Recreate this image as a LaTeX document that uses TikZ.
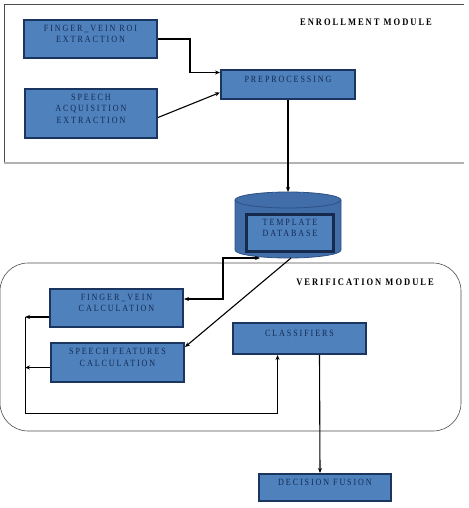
\documentclass[tikz,border=0pt]{standalone}
\usepackage{fontspec}
\newfontfamily\boxfont[LetterSpace=20,FakeStretch=0.85]{Liberation Serif}
\usetikzlibrary{arrows.meta}
\definecolor{boxblue}{HTML}{4F81BD}
\definecolor{boxedge}{HTML}{1A3560}
\definecolor{boxtext}{HTML}{142B52}
\definecolor{dbblue}{HTML}{416DA8}
\definecolor{dbedge}{HTML}{2D5286}
\begin{document}
\begin{tikzpicture}[x=1pt,y=-1pt,
    blk/.style={draw=boxedge, line width=2.4pt, fill=boxblue, text=boxtext,
      font=\boxfont\fontsize{9.5}{11.5}\selectfont, align=center,
      inner sep=0pt, text depth=10pt},
    arr/.style={-{Stealth[length=5pt,width=4pt]}, line width=1.1pt},
    arrtwo/.style={{Stealth[length=5pt,width=4pt]}-{Stealth[length=5pt,width=4pt]}, line width=1.1pt},
    modlbl/.style={font=\boxfont\bfseries\fontsize{10}{12}\selectfont}]
    \useasboundingbox (0,0) rectangle (468,508);

    % enrollment module
    \draw[gray!60!black, line width=0.6pt] (464,4) -- (4,4) -- (4,163);
    \draw[gray!60, line width=1.2pt] (4,163) -- (464,163);
    \node[modlbl] (enrlbl) at (366,22) {ENROLLMENT MODULE};

    \node[blk, minimum width=132.6, minimum height=37.6] (fvroi) at (90.5,39) {FINGER\_VEIN ROI\\EXTRACTION};
    \node[blk, minimum width=131.6, minimum height=48.6] (spacq) at (91,113.5) {SPEECH\\ACQUISITION\\EXTRACTION};
    \node[blk, minimum width=133.6, minimum height=28.6] (preproc) at (288,84.5) {PREPROCESSING};

    % template database
    \filldraw[fill=dbblue, draw=dbedge, line width=0.8pt] (235,200) -- (235,250)
      arc[start angle=180, end angle=0, x radius=53, y radius=8] -- (341,200) -- cycle;
    \filldraw[fill=dbblue, draw=dbedge, line width=0.8pt] (288,200) ellipse[x radius=53, y radius=8];
    \coordinate (dbtop) at (288,192);
    \coordinate (dbbot) at (288,258);
    \node[blk, draw=boxedge!80!black, line width=3pt, minimum width=87, minimum height=37] (dbtext) at (290,233) {TEMPLATE\\DATABASE};

    % verification module
    \draw[gray!60!black, line width=0.6pt, rounded corners=28pt] (0,263) rectangle (461,431);
    \node[modlbl] (verlbl) at (365,282) {VERIFICATION MODULE};

    \node[blk, minimum width=132.6, minimum height=37.6] (fvcalc) at (116.5,308) {FINGER\_VEIN\\CALCULATION};
    \node[blk, minimum width=132.6, minimum height=38.6] (spcalc) at (117.5,362.5) {SPEECH FEATURES\\CALCULATION};
    \node[blk, minimum width=132.6, minimum height=30.6] (classif) at (299.5,338.5) {CLASSIFIERS};
    \node[blk, minimum width=131.6, minimum height=26.6] (decfus) at (325,487.5) {DECISION FUSION};
    \coordinate (loopl) at (25,413);

    % connectors
    \draw[arr] (fvroi.east) -- ++(32,0) |- ([yshift=12pt]preproc.west);
    \draw[arr] ([yshift=-4pt]spacq.east) -- ([yshift=-8pt]preproc.west);
    \draw[arr] (preproc.south) -- (dbtop);
    \draw[arrtwo] ([yshift=9pt]fvcalc.east) -- ++(39,0) |- ([xshift=-28pt]dbbot);
    \draw[arr] ([xshift=3pt]dbbot) -- ([yshift=-5pt]spcalc.north east);
    \draw[arr] ([yshift=-9pt]fvcalc.west) -- ([yshift=-9pt]fvcalc.west -| loopl);
    \draw[arr] ([yshift=-5pt]spcalc.west) -- ([yshift=-5pt]spcalc.west -| loopl);
    \draw[arr, line width=0.6pt] ([yshift=-9pt]fvcalc.west -| loopl) -- (loopl) -| ([xshift=-22pt]classif.south);
    \draw[arr] ([xshift=20pt]classif.south) -- ([xshift=-5pt]decfus.north);
\end{tikzpicture}
\end{document}
